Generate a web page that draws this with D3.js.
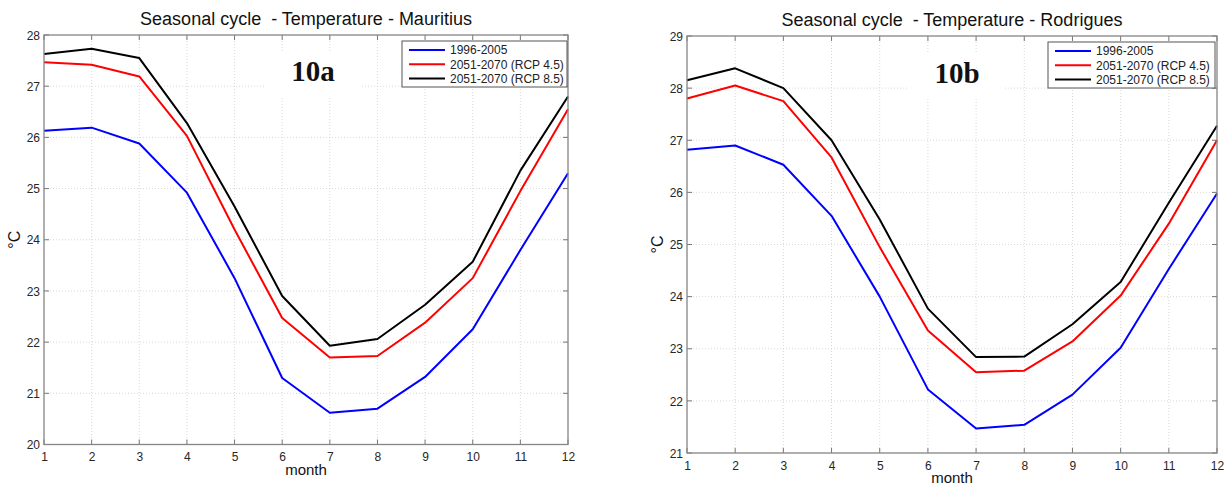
<!DOCTYPE html>
<html><head><meta charset="utf-8">
<script src="https://cdn.jsdelivr.net/npm/d3@7"></script>
<style>
body{margin:0;background:#fff;}
text{font-family:"Liberation Sans",Arial,sans-serif;}
</style></head>
<body><svg id="c" width="1227" height="489"></svg>
<script>
const months = [1,2,3,4,5,6,7,8,9,10,11,12];
const seriesNames = ["1996-2005","2051-2070 (RCP 4.5)","2051-2070 (RCP 8.5)"];
const seriesColors = ["#0000ff","#ff0000","#000000"];
// Mauritius
const mauritiusHist  = [26.13,26.19,25.88,24.92,23.25,21.30,20.62,20.70,21.32,22.25,23.80,25.30];
const mauritiusRcp45 = [27.47,27.42,27.19,26.03,24.20,22.47,21.70,21.73,22.38,23.25,24.95,26.55];
const mauritiusRcp85 = [27.63,27.73,27.55,26.28,24.65,22.90,21.93,22.06,22.73,23.57,25.35,26.80];
// Rodrigues
const rodriguesHist  = [26.82,26.90,26.53,25.55,24.00,22.22,21.47,21.54,22.12,23.02,24.53,25.98];
const rodriguesRcp45 = [27.80,28.05,27.75,26.67,24.95,23.35,22.55,22.58,23.14,24.02,25.40,27.00];
const rodriguesRcp85 = [28.15,28.38,28.00,27.00,25.48,23.77,22.84,22.85,23.47,24.28,25.80,27.28];
const mauritiusYTicks = [20,21,22,23,24,25,26,27,28];
const rodriguesYTicks = [21,22,23,24,25,26,27,28,29];

const svg = d3.select("#c");

function panel(o){
  const g = svg.append("g");
  const x = d3.scaleLinear().domain([1,12]).range([o.x0,o.x1]);
  const y = d3.scaleLinear().domain([o.yTicks[0],o.yTicks[o.yTicks.length-1]]).range([o.y1,o.y0]);
  // grid
  g.selectAll(".gx").data(months.slice(1,-1)).join("line")
    .attr("x1",d=>x(d)).attr("x2",d=>x(d)).attr("y1",o.y0).attr("y2",o.y1)
    .attr("stroke","#cfcfcf").attr("stroke-width",0.8).attr("stroke-dasharray","1,2");
  g.selectAll(".gy").data(o.yTicks.slice(1,-1)).join("line")
    .attr("x1",o.x0).attr("x2",o.x1).attr("y1",d=>y(d)).attr("y2",d=>y(d))
    .attr("stroke","#cfcfcf").attr("stroke-width",0.8).attr("stroke-dasharray","1,2");
  // white patch behind panel label
  g.append("rect").attr("x",o.lx-48).attr("y",o.ly-30).attr("width",96).attr("height",46).attr("fill","#fff");
  // axes
  const ax = d3.axisBottom(x).tickValues(months).tickSize(0).tickPadding(6).tickFormat(d3.format("d"));
  const gx = g.append("g").attr("transform",`translate(0,${o.y1})`).call(ax);
  const ay = d3.axisLeft(y).tickValues(o.yTicks).tickSize(0).tickPadding(4).tickFormat(d3.format("d"));
  const gy = g.append("g").attr("transform",`translate(${o.x0},0)`).call(ay);
  [gx,gy].forEach(a=>{a.select(".domain").remove();
    a.selectAll("text").attr("font-size",12).attr("fill","#262626").style("font-family","Liberation Sans, Arial, sans-serif");});
  gx.selectAll("text").attr("dy","0.9em");
  gy.selectAll("text").attr("dy","0.35em");
  // inner ticks
  const tl = 5;
  g.selectAll(".tb").data(months).join("line").attr("x1",d=>x(d)).attr("x2",d=>x(d)).attr("y1",o.y1).attr("y2",o.y1-tl).attr("stroke","#777");
  g.selectAll(".tt").data(months).join("line").attr("x1",d=>x(d)).attr("x2",d=>x(d)).attr("y1",o.y0).attr("y2",o.y0+tl).attr("stroke","#777");
  g.selectAll(".tl").data(o.yTicks).join("line").attr("x1",o.x0).attr("x2",o.x0+tl).attr("y1",d=>y(d)).attr("y2",d=>y(d)).attr("stroke","#777");
  g.selectAll(".tr").data(o.yTicks).join("line").attr("x1",o.x1).attr("x2",o.x1-tl).attr("y1",d=>y(d)).attr("y2",d=>y(d)).attr("stroke","#777");
  // lines
  const line = d3.line().x((d,i)=>x(months[i])).y(d=>y(d));
  o.series.forEach((s,i)=>{
    g.append("path").datum(s).attr("d",line).attr("fill","none")
      .attr("stroke",seriesColors[i]).attr("stroke-width",2).attr("stroke-linejoin","round");
  });
  // box
  g.append("rect").attr("x",o.x0).attr("y",o.y0).attr("width",o.x1-o.x0).attr("height",o.y1-o.y0)
    .attr("fill","none").attr("stroke","#858585").attr("stroke-width",1.3);
  // panel label
  g.append("text").attr("x",o.lx).attr("y",o.ly).attr("text-anchor","middle")
    .style("font-family","'Liberation Serif', 'Times New Roman', serif").attr("font-weight","bold")
    .attr("font-size",29).attr("fill","#111").text(o.label);
  // legend
  const lg = g.append("g");
  lg.append("rect").attr("x",o.legX).attr("y",o.legY).attr("width",o.legW).attr("height",46)
    .attr("fill","#fff").attr("stroke","#555").attr("stroke-width",1);
  seriesNames.forEach((n,i)=>{
    const yy = o.legY + 9 + i*14.3;
    lg.append("line").attr("x1",o.legX+7).attr("x2",o.legX+43).attr("y1",yy).attr("y2",yy)
      .attr("stroke",seriesColors[i]).attr("stroke-width",2);
    lg.append("text").attr("x",o.legX+48).attr("y",yy).attr("dy","0.35em")
      .attr("font-size",12).attr("fill","#222").text(n);
  });
  // title
  g.append("text").attr("x",(o.x0+o.x1)/2).attr("y",o.y0-10).attr("text-anchor","middle")
    .style("white-space","pre")
    .attr("font-size",18).attr("fill","#111").text(o.title);
  // axis labels
  g.append("text").attr("x",(o.x0+o.x1)/2).attr("y",o.y1+30).attr("text-anchor","middle")
    .attr("font-size",15).attr("fill","#111").text("month");
  g.append("text").attr("transform",`translate(${o.x0-24},${(o.y0+o.y1)/2}) rotate(-90)`)
    .attr("text-anchor","middle").attr("font-size",16).attr("fill","#111").text("°C");
}

panel({x0:44,x1:568,y0:35,y1:444.5,yTicks:mauritiusYTicks,
  series:[mauritiusHist,mauritiusRcp45,mauritiusRcp85],
  title:"Seasonal cycle  - Temperature - Mauritius",label:"10a",lx:313,ly:81,
  legX:402,legY:41,legW:165});
panel({x0:687,x1:1217,y0:36,y1:453,yTicks:rodriguesYTicks,
  series:[rodriguesHist,rodriguesRcp45,rodriguesRcp85],
  title:"Seasonal cycle  - Temperature - Rodrigues",label:"10b",lx:957,ly:83,
  legX:1048,legY:42,legW:167});
</script></body></html>
